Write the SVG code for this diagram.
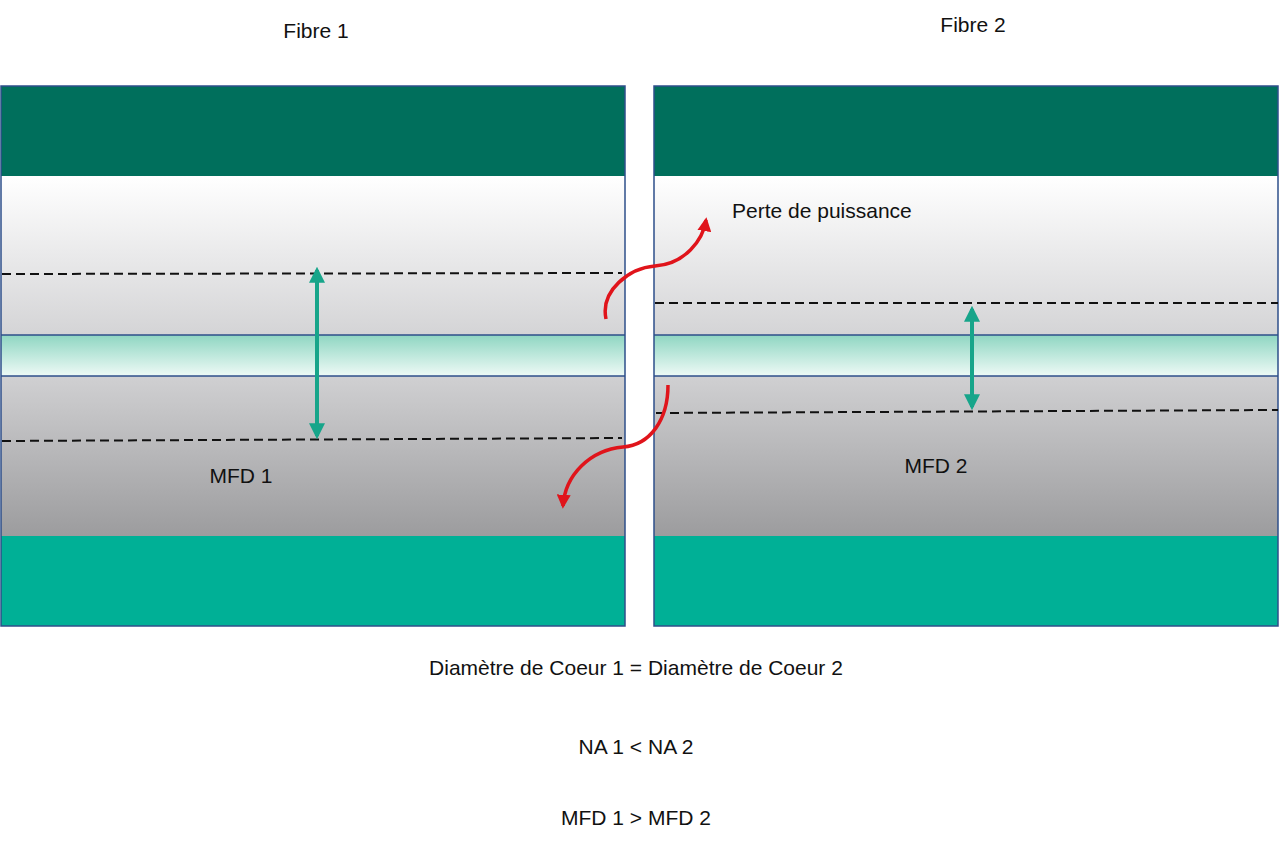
<svg xmlns="http://www.w3.org/2000/svg" width="1280" height="851" viewBox="0 0 1280 851">
<style>
.t{font-family:"Liberation Sans",Arial,sans-serif;font-size:21px;fill:#111}
.dash{stroke:#111;stroke-width:2;stroke-dasharray:9,5;fill:none}
.edge{fill:none;stroke:#2e4f8a;stroke-width:1.5}
.red{fill:none;stroke:#e0141b;stroke-width:3.5}
.grn{stroke:#17a58a;stroke-width:4}
</style>
<defs>
<linearGradient id="up" x1="0" y1="0" x2="0" y2="1"><stop offset="0" stop-color="#ffffff"/><stop offset="1" stop-color="#d4d4d6"/></linearGradient>
<linearGradient id="lo" x1="0" y1="0" x2="0" y2="1"><stop offset="0" stop-color="#d0d0d2"/><stop offset="1" stop-color="#9c9c9e"/></linearGradient>
<linearGradient id="core" x1="0" y1="0" x2="0" y2="1"><stop offset="0" stop-color="#8fd6c2"/><stop offset="1" stop-color="#eefaf6"/></linearGradient>
<marker id="ar" viewBox="0 0 10 10" refX="8" refY="5" markerWidth="4" markerHeight="4" orient="auto-start-reverse"><path d="M0,0L10,5L0,10z" fill="#e0141b"/></marker>
<marker id="ag" viewBox="0 0 10 10" refX="8" refY="5" markerWidth="4" markerHeight="4" orient="auto-start-reverse"><path d="M0,0L10,5L0,10z" fill="#17a58a"/></marker>
</defs>
<rect width="1280" height="851" fill="#fff"/>
<g id="fibre1">
<rect x="1" y="86" width="624" height="90" fill="#006f5c"/>
<rect x="1" y="176" width="624" height="159" fill="url(#up)"/>
<rect x="1" y="335" width="624" height="41" fill="url(#core)"/>
<rect x="1" y="376" width="624" height="160" fill="url(#lo)"/>
<rect x="1" y="536" width="624" height="90" fill="#00b096"/>
<line class="edge" x1="1" y1="335" x2="625" y2="335"/><line class="edge" x1="1" y1="376" x2="625" y2="376"/>
<rect class="edge" x="1" y="86" width="624" height="540"/>
<path class="dash" d="M2,274L622,273"/><path class="dash" d="M2,441L622,438"/>
<line class="grn" x1="317" y1="270" x2="317" y2="436" marker-start="url(#ag)" marker-end="url(#ag)"/>
<text class="t" x="241" y="483" text-anchor="middle">MFD 1</text>
</g>
<g id="fibre2">
<rect x="654" y="86" width="624" height="90" fill="#006f5c"/>
<rect x="654" y="176" width="624" height="159" fill="url(#up)"/>
<rect x="654" y="335" width="624" height="41" fill="url(#core)"/>
<rect x="654" y="376" width="624" height="160" fill="url(#lo)"/>
<rect x="654" y="536" width="624" height="90" fill="#00b096"/>
<line class="edge" x1="654" y1="335" x2="1278" y2="335"/><line class="edge" x1="654" y1="376" x2="1278" y2="376"/>
<rect class="edge" x="654" y="86" width="624" height="540"/>
<path class="dash" d="M655,303L1278,303"/><path class="dash" d="M656,413L1278,410"/>
<line class="grn" x1="972" y1="309" x2="972" y2="407" marker-start="url(#ag)" marker-end="url(#ag)"/>
<text class="t" x="936" y="473" text-anchor="middle">MFD 2</text>
</g>
<g id="connectors">
<path class="red" d="M606,319C600,290 630,268 655,266C685,264 703,240 706,220" marker-end="url(#ar)"/>
<path class="red" d="M668,385C668,420 650,445 623,447C590,450 565,475 563,506" marker-end="url(#ar)"/>
</g>
<g id="labels">
<text class="t" x="316" y="38" text-anchor="middle">Fibre 1</text>
<text class="t" x="973" y="32" text-anchor="middle">Fibre 2</text>
<text class="t" x="732" y="218">Perte de puissance</text>
<text class="t" x="636" y="675" text-anchor="middle">Diamètre de Coeur 1 = Diamètre de Coeur 2</text>
<text class="t" x="636" y="754" text-anchor="middle">NA 1 &lt; NA 2</text>
<text class="t" x="636" y="825" text-anchor="middle">MFD 1 &gt; MFD 2</text>
</g>
</svg>
